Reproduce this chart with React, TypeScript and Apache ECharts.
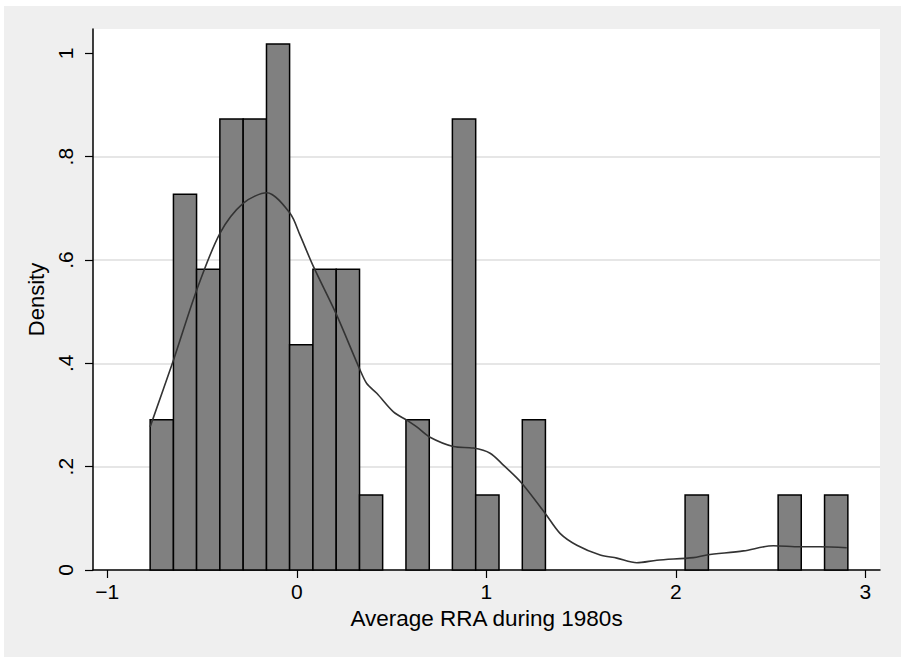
import React, { useEffect, useRef } from "react";
import * as echarts from "echarts";

// Histogram bins (only non-empty bins), density heights
const binLeft = [-0.774, -0.651, -0.529, -0.406, -0.283, -0.160, -0.038, 0.085, 0.208, 0.331, 0.576, 0.821, 0.944, 1.190, 2.049, 2.540, 2.785];
const binRight = [-0.651, -0.529, -0.406, -0.283, -0.160, -0.038, 0.085, 0.208, 0.331, 0.453, 0.699, 0.944, 1.067, 1.312, 2.172, 2.662, 2.908];
const binDensity = [0.291, 0.727, 0.582, 0.873, 0.873, 1.018, 0.436, 0.582, 0.582, 0.145, 0.291, 0.873, 0.145, 0.291, 0.145, 0.145, 0.145];

// Kernel density curve
const kdeX = [-0.774, -0.651, -0.528, -0.405, -0.282, -0.158, -0.035, 0.017, 0.088, 0.206, 0.334, 0.369, 0.422, 0.510, 0.580, 0.633, 0.703, 0.826, 0.932, 1.020, 1.090, 1.187, 1.310, 1.389, 1.478, 1.601, 1.689, 1.794, 1.900, 2.093, 2.164, 2.357, 2.515, 2.656, 2.761, 2.902];
const kdeY = [0.277, 0.406, 0.542, 0.652, 0.710, 0.730, 0.690, 0.648, 0.587, 0.497, 0.387, 0.361, 0.342, 0.306, 0.290, 0.277, 0.257, 0.239, 0.236, 0.226, 0.203, 0.168, 0.110, 0.071, 0.048, 0.029, 0.023, 0.014, 0.019, 0.024, 0.029, 0.037, 0.047, 0.045, 0.045, 0.043];

const xTicks = [-1, 0, 1, 2, 3];
const yTicks = [0, 0.2, 0.4, 0.6, 0.8, 1];
const yTickLabels = ["0", ".2", ".4", ".6", ".8", "1"];

const xTitle = "Average RRA during 1980s";
const yTitle = "Density";

export default function App() {
  const ref = useRef<HTMLDivElement>(null);
  useEffect(() => {
    if (!ref.current) return;
    const chart = echarts.init(ref.current, undefined, { renderer: "svg" });
    const font = "'Liberation Sans', Arial, Helvetica, sans-serif";
    const histData = binLeft.map((l, i) => [l, binRight[i], binDensity[i]]);
    const kdeData = kdeX.map((x, i) => [x, kdeY[i]]);
    chart.setOption({
      animation: false,
      backgroundColor: "#efefef",
      textStyle: { fontFamily: font, color: "#000" },
      grid: {
        left: 89,
        top: 23,
        right: 21,
        bottom: 87,
        show: true,
        backgroundColor: "#ffffff",
        borderWidth: 0,
        containLabel: false,
      },
      xAxis: {
        type: "value",
        min: -1.0755,
        max: 3.0776,
        name: xTitle,
        nameLocation: "middle",
        nameGap: 35,
        nameTextStyle: { fontFamily: font, fontSize: 22.5, color: "#000" },
        axisLine: { show: true, onZero: false, lineStyle: { color: "#000", width: 1.5 } },
        axisTick: { show: true, customValues: xTicks, length: 8, lineStyle: { color: "#000", width: 1.2 } },
        axisLabel: {
          customValues: xTicks,
          fontFamily: font,
          fontSize: 21,
          color: "#000",
          margin: 11,
          formatter: (v: number) => (v < 0 ? "\u2212" + Math.abs(v) : String(v)),
        },
        splitLine: { show: false },
      },
      yAxis: {
        type: "value",
        min: 0,
        max: 1.047,
        interval: 0.2,
        name: yTitle,
        nameLocation: "middle",
        nameGap: 40,
        nameRotate: 90,
        nameTextStyle: { fontFamily: font, fontSize: 22, color: "#000" },
        axisLine: { show: true, onZero: false, lineStyle: { color: "#000", width: 1.5 } },
        axisTick: { show: true, customValues: yTicks, length: 8, lineStyle: { color: "#000", width: 1.2 } },
        axisLabel: {
          customValues: yTicks,
          rotate: 90,
          fontFamily: font,
          fontSize: 21,
          color: "#000",
          margin: 17,
          formatter: (v: number) => {
            const idx = yTicks.findIndex((t) => Math.abs(t - v) < 1e-6);
            return idx >= 0 ? yTickLabels[idx] : "";
          },
        },
        splitLine: { show: true, showMinLine: false, showMaxLine: false, lineStyle: { color: "#e6e6e6", width: 2 } },
      },
      series: [
        {
          type: "custom",
          z: 2,
          data: histData,
          encode: { x: [0, 1], y: 2 },
          renderItem: (params: any, api: any) => {
            const x0 = api.value(0);
            const x1 = api.value(1);
            const h = api.value(2);
            const p0 = api.coord([x0, h]);
            const p1 = api.coord([x1, 0]);
            return {
              type: "rect",
              shape: { x: p0[0], y: p0[1], width: p1[0] - p0[0], height: p1[1] - p0[1] },
              style: { fill: "#808080", stroke: "#000", lineWidth: 1.5 },
            };
          },
        },
        {
          type: "line",
          z: 3,
          data: kdeData,
          smooth: 0.3,
          showSymbol: false,
          symbol: "none",
          lineStyle: { color: "#333333", width: 1.6 },
        },
      ],
    });
    return () => chart.dispose();
  }, []);
  return (
    <div
      ref={ref}
      style={{ position: "absolute", left: 4, top: 6, width: 897, height: 651 }}
    />
  );
}
